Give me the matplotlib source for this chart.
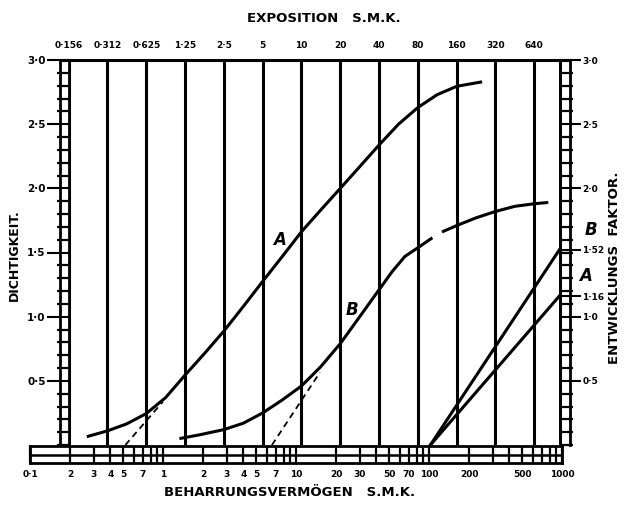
import numpy as np
import matplotlib
matplotlib.use('Agg')
import matplotlib.pyplot as plt
from matplotlib.ticker import FixedLocator, MultipleLocator, NullLocator, NullFormatter, LogLocator

# ---------------- data ----------------
exposure_lines = [0.156, 0.312, 0.625, 1.25, 2.5, 5, 10, 20, 40, 80, 160, 320, 640]
exposure_labels = ['0·156', '0·312', '0·625', '1·25', '2·5', '5', '10', '20', '40',
                   '80', '160', '320', '640']

curveA_exposure = [0.216, 0.312, 0.441, 0.625, 0.884, 1.25, 1.77, 2.5, 3.54, 5, 7.07, 10,
                   14.1, 20, 28.3, 40, 56.6, 80, 113, 160, 252]
curveA_density = [0.065, 0.11, 0.165, 0.245, 0.37, 0.545, 0.714, 0.888, 1.08, 1.275, 1.467,
                  1.662, 1.831, 2.00, 2.169, 2.338, 2.50, 2.63, 2.73, 2.795, 2.83]

curveB1_exposure = [1.13, 1.63, 2.5, 3.54, 5, 7.07, 10, 14.1, 20, 28.3, 40, 50.4, 63.5,
                    80, 103.6]
curveB1_density = [0.05, 0.08, 0.12, 0.17, 0.25, 0.35, 0.46, 0.61, 0.79, 1.00, 1.21,
                   1.35, 1.47, 1.537, 1.615]
curveB2_exposure = [123, 160, 226, 320, 453, 640, 822]
curveB2_density = [1.66, 1.71, 1.77, 1.82, 1.86, 1.88, 1.89]

inertia_A, gamma_A, tangentA_end = 0.43, 1.16, 0.84
inertia_B, gamma_B, tangentB_end = 5.9, 1.52, 13.9
factor_line_x = [100, 1000]

density_ticks = [0.5, 1.0, 1.5, 2.0, 2.5, 3.0]
density_labels = ['0·5', '1·0', '1·5', '2·0', '2·5', '3·0']
factor_ticks = [0.5, 1.0, 1.16, 1.52, 2.0, 2.5, 3.0]
factor_labels = ['0·5', '1·0', '1·16', '1·52', '2·0', '2·5', '3·0']

inertia_ticks = [0.1, 0.2, 0.3, 0.4, 0.5, 0.7, 1, 2, 3, 4, 5, 7, 10, 20, 30, 50, 70,
                 100, 200, 500, 1000]
inertia_labels = ['0·1', '2', '3', '4', '5', '7', '1', '2', '3', '4', '5', '7', '10',
                  '20', '30', '50', '70', '100', '200', '500', '1000']

# ---------------- figure ----------------
W, H = 625, 512
fig = plt.figure(figsize=(W / 100, H / 100), dpi=100)
fig.patch.set_facecolor('white')
plt.rcParams['font.family'] = ['DejaVu Sans']


def px_axes(x0, y0, x1, y1, **kw):
    return fig.add_axes([x0 / W, 1 - y1 / H, (x1 - x0) / W, (y1 - y0) / H], **kw)


LW = 2.2
BOLD = dict(fontweight='bold', color='black')

# ladders (outer rails)
ladL = px_axes(60, 60, 68.6, 445)
ladR = px_axes(560, 60, 570, 445)
for lad, side in ((ladL, 'left'), (ladR, 'right')):
    lad.set_facecolor('none')
    lad.set_xticks([])
    lad.set_yticks([])
    for s in ('left', 'right', 'bottom'):
        lad.spines[s].set_visible(s == side)
    lad.spines[side].set_linewidth(2.0)
    lad.spines['top'].set_linewidth(LW)

# main axes
ax = px_axes(68.6, 60, 560, 445)
ax.set_facecolor('none')
ax.set_xscale('log', base=2)
ax.set_xlim(0.156, 1013)
ax.set_ylim(0, 3)
ax.spines['bottom'].set_visible(False)
ax.spines['top'].set_linewidth(LW)
ax.spines['left'].set_linewidth(2.0)
ax.spines['right'].set_linewidth(2.0)

ax.xaxis.tick_top()
ax.xaxis.set_major_locator(FixedLocator(exposure_lines))
ax.xaxis.set_minor_locator(NullLocator())
ax.set_xticklabels(exposure_labels, fontsize=6.5, **BOLD)
ax.tick_params(axis='x', which='both', length=0, pad=7)

ax.yaxis.set_major_locator(FixedLocator(density_ticks))
ax.yaxis.set_minor_locator(MultipleLocator(0.1))
ax.yaxis.set_minor_formatter(NullFormatter())
ax.set_yticklabels(density_labels, fontsize=7.5, **BOLD)
ax.tick_params(axis='y', which='major', direction='out', length=15.5, width=1.5, pad=1)
ax.tick_params(axis='y', which='minor', direction='out', length=8.5, width=1.6)

ax2 = ax.twinx()
ax2.set_ylim(0, 3)
for s in ('top', 'bottom', 'left'):
    ax2.spines[s].set_visible(False)
ax2.spines['right'].set_linewidth(2.0)
ax2.yaxis.set_major_locator(FixedLocator(factor_ticks))
ax2.yaxis.set_minor_locator(MultipleLocator(0.1))
ax2.yaxis.set_minor_formatter(NullFormatter())
ax2.set_yticklabels(factor_labels, fontsize=6.5, **BOLD)
ax2.tick_params(axis='y', which='major', direction='out', length=15, width=1.5, pad=1)
ax2.tick_params(axis='y', which='minor', direction='out', length=9.5, width=1.6)

# exposure lines
ax.vlines(exposure_lines, 0, 3, color='black', lw=LW)

# characteristic curves
for xs, ys in ((curveA_exposure, curveA_density),
               (curveB1_exposure, curveB1_density),
               (curveB2_exposure, curveB2_density)):
    ax.plot(xs, ys, color='black', lw=LW, solid_capstyle='butt', solid_joinstyle='round')

# tangents (dashed) from inertia
for i0, g, x1 in ((inertia_A, gamma_A, tangentA_end), (inertia_B, gamma_B, tangentB_end)):
    ax.plot([i0, x1], [0, g * np.log10(x1 / i0)], color='black', lw=1.3,
            linestyle=(0, (3.5, 2.5)))

# development-factor lines
for g in (gamma_B, gamma_A):
    ax.plot(factor_line_x, [0, g * np.log10(factor_line_x[1] / factor_line_x[0])],
            color='black', lw=LW, clip_on=False)

ax.text(6.7, 1.60, 'A', fontsize=12, fontstyle='italic', ha='center', va='center', **BOLD)
ax.text(24.7, 1.05, 'B', fontsize=12, fontstyle='italic', ha='center', va='center', **BOLD)

# bottom inertia bar
bar = px_axes(30.4, 446, 562.4, 463)
bar.set_facecolor('none')
bar.set_xscale('log')
bar.set_xlim(0.1, 1000)
bar.set_ylim(0, 1)
for s in bar.spines.values():
    s.set_linewidth(2.0)
bar.axhline(0.5, color='black', lw=1.8)
bar.set_yticks([])
bar.xaxis.set_major_locator(FixedLocator(inertia_ticks))
bar.xaxis.set_minor_locator(LogLocator(base=10, subs=np.arange(1, 10)))
bar.xaxis.set_minor_formatter(NullFormatter())
bar.set_xticklabels(inertia_labels, fontsize=6.5, **BOLD)
bar.tick_params(axis='x', which='both', direction='in', length=12.2, width=1.6, pad=5)

# axis titles
fig.text(324 / W, 1 - 18 / H, 'EXPOSITION   S.M.K.', ha='center', va='center',
         fontsize=9.5, **BOLD)
fig.text(290 / W, 1 - 493 / H, 'BEHARRUNGSVERMÖGEN   S.M.K.', ha='center', va='center',
         fontsize=9.5, **BOLD)
fig.text(14 / W, 1 - 255 / H, 'DICHTIGKEIT.', rotation=90, ha='center', va='center',
         fontsize=9, **BOLD)
fig.text(615 / W, 1 - 268 / H, 'ENTWICKLUNGS  FAKTOR.', rotation=90, ha='center',
         va='center', fontsize=9.5, **BOLD)
fig.text(591 / W, 1 - 230 / H, 'B', fontsize=12, fontstyle='italic', ha='center',
         va='center', **BOLD)
fig.text(586 / W, 1 - 276 / H, 'A', fontsize=12, fontstyle='italic', ha='center',
         va='center', **BOLD)

fig.savefig('out.png', dpi=100, facecolor='white')
